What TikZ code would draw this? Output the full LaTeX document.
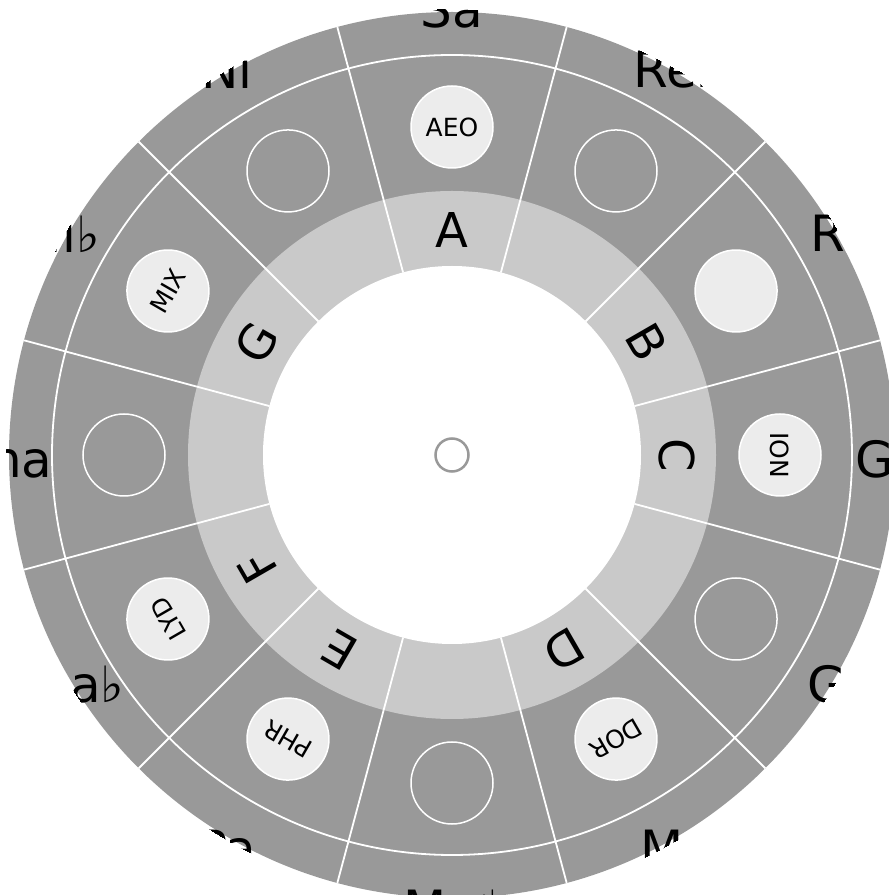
\documentclass[tikz,border=0pt]{standalone}
\usepackage{fontspec}
\setmainfont{DejaVu Sans}
\definecolor{darkring}{HTML}{999999}
\definecolor{lightring}{HTML}{C9C9C9}
\definecolor{modefill}{HTML}{ECECEC}
\tikzset{
  sep/.style={white, line width=1.8pt},
  outerlbl/.style={font=\fontsize{50}{50}\selectfont, text=black, inner sep=0pt},
  notelbl/.style={font=\fontsize{48}{48}\selectfont, text=black, inner sep=0pt},
  modefull/.style={circle, minimum size=82pt, inner sep=0pt, fill=modefill, draw=white, line width=1.5pt, font=\fontsize{25}{25}\selectfont},
  modeempty/.style={circle, minimum size=82pt, inner sep=0pt, draw=white, line width=1.5pt},
}
\begin{document}
\begin{tikzpicture}[x=1pt,y=1pt]
\useasboundingbox (0,0) rectangle (889,895);
\coordinate (O) at (452,440);
% outer disk
\fill[darkring] (O) circle[radius=443];
\begin{scope}
  \clip (O) circle[radius=446];
  \foreach \a/\t [count=\i] in {0/Sa,30/Re♭,60/Re,90/Ga♭,120/Ga,150/Ma,180/Ma♯,210/Pa,240/Dha♭,270/Dha,300/Ni♭,330/Ni}
    \node[outerlbl] (out\i) at ([shift={(90-\a:450)}, yshift=-4pt]O) {\t};
\end{scope}
\draw[sep] (O) circle[radius=400];
\foreach \a in {15,45,...,345}
  \draw[sep] ([shift={(\a:264)}]O) -- ([shift={(\a:443)}]O);
% inner ring
\fill[lightring] (O) circle[radius=264];
\foreach \a in {15,45,...,345}
  \draw[sep] ([shift={(\a:189)}]O) -- ([shift={(\a:264)}]O);
\fill[white] (O) circle[radius=189];
% note letters
\foreach \a/\t [count=\i] in {0/A,60/B,90/C,150/D,210/E,240/F,300/G}
  \node[notelbl, rotate=-\a] (note\i) at ([shift={(90-\a:225)}]O) {\t};
% mode circles
\foreach \a/\t [count=\i] in {0/AEO,60/,90/ION,150/DOR,210/PHR,240/LYD,300/MIX}
  \node[modefull, rotate=-\a] (mode\i) at ([shift={(90-\a:328)}]O) {\t};
\foreach \a [count=\i] in {30,120,180,270,330}
  \node[modeempty] (empty\i) at ([shift={(90-\a:328)}]O) {};
% center
\node[circle, draw=darkring, fill=white, line width=2.5pt, minimum size=33pt, inner sep=0pt] (hub) at (O) {};
\end{tikzpicture}
\end{document}
